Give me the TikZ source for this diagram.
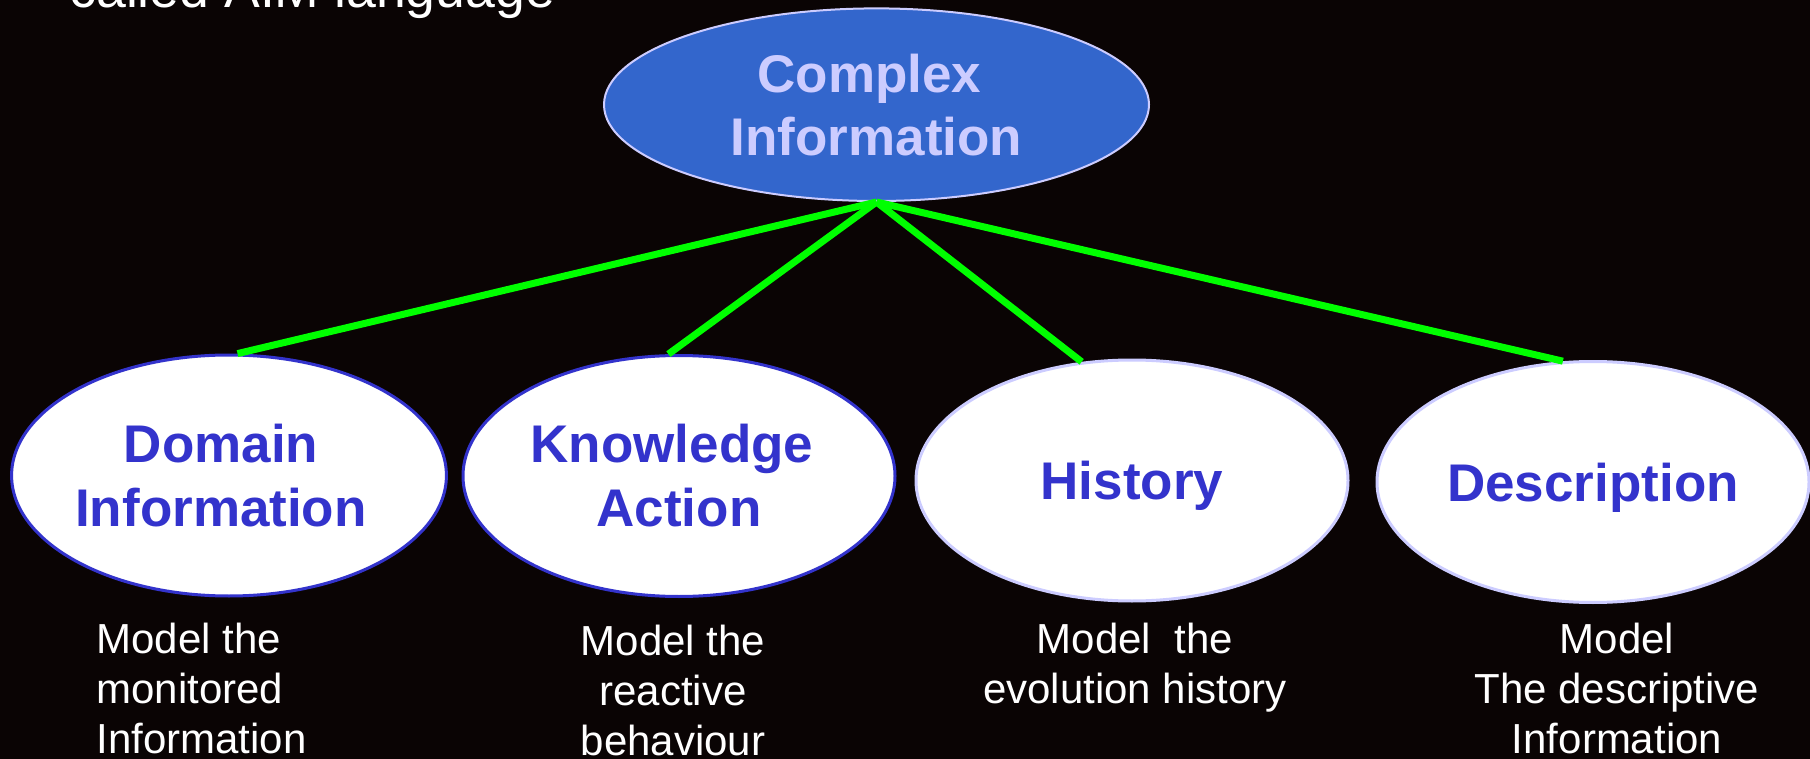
\documentclass[tikz,border=0pt]{standalone}
\usepackage{fontspec}
\setmainfont{Liberation Sans}
\usetikzlibrary{shapes.geometric}
\definecolor{bg}{RGB}{10,4,4}
\definecolor{topfill}{RGB}{51,102,204}
\definecolor{lav}{RGB}{204,204,255}
\definecolor{dblue}{RGB}{51,51,204}
\definecolor{lgreen}{RGB}{0,255,0}
\begin{document}
\begin{tikzpicture}[x=0.5pt,y=-0.5pt,
  topnode/.style={ellipse, draw=lav, line width=1pt, fill=topfill, text=lav,
    font=\bfseries\fontsize{26.5}{31.5}\selectfont, align=center, inner sep=0pt,
    minimum width=272.5pt, minimum height=96.3pt},
  child/.style={ellipse, line width=1.5pt, fill=white, text=dblue,
    font=\bfseries\fontsize{26.5}{32}\selectfont, align=center, inner sep=0pt,
    minimum width=216pt, minimum height=120.5pt},
  descr/.style={text=white, font=\fontsize{21}{25}\selectfont, inner sep=0pt},
  link/.style={draw=lgreen, line width=3.5pt}]
\fill[bg] (0,0) rectangle (1810,759);
\useasboundingbox (0,0) rectangle (1810,759);
\node[descr, anchor=base west, font=\fontsize{26.8}{31}\selectfont] (title) at (69,8) {called AIM language};
\node[topnode] (top) at (876.5,104.7) {Complex\kern7pt\\Information};
\node[child, draw=dblue] (dom) at (229,475.5) {Domain\kern8pt\\Information\kern8pt};
\node[child, draw=dblue] (ka) at (679,476) {Knowledge\kern7pt\\Action};
\node[child, draw=lav, text depth=0pt] (hist) at (1132,480.5) {History};
\node[child, draw=lav, text depth=0pt] (desc) at (1593,482) {Description};
\draw[link] (top.south) -- (dom.86);
\draw[link] (top.south) -- (ka.95);
\draw[link] (top.south) -- (hist.113);
\draw[link] (top.south) -- (desc.104);
\node[descr, anchor=north west, align=left] (t1) at (96,623) {Model the\\monitored\\Information};
\node[descr, anchor=north, align=center] (t2) at (673,625) {Model the\\reactive\\behaviour};
\node[descr, anchor=north, align=center] (t3) at (1135,623) {Model\ \ the\\evolution history};
\node[descr, anchor=north, align=center] (t4) at (1617,623) {Model\\The descriptive\\Information};
\end{tikzpicture}
\end{document}
